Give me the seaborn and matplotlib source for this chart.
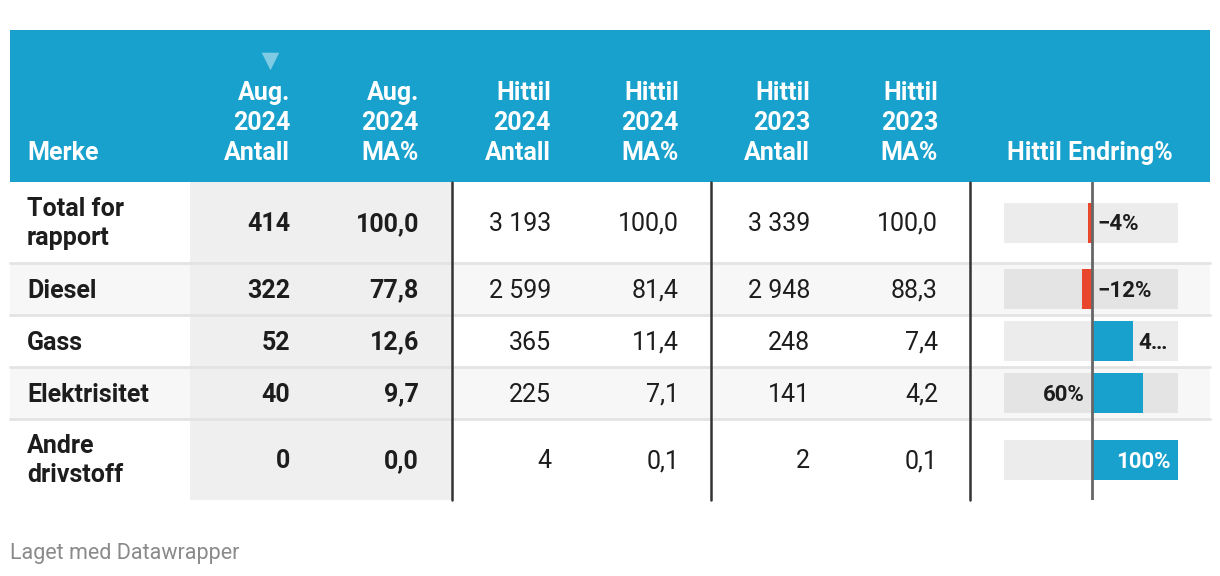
import matplotlib
matplotlib.use('Agg')
import matplotlib.pyplot as plt
import seaborn as sns
import numpy as np
import pandas as pd

# table data
merke = ['Total for\nrapport', 'Diesel', 'Gass', 'Elektrisitet', 'Andre\ndrivstoff']
aug_antall = [414, 322, 52, 40, 0]
aug_ma = [100.0, 77.8, 12.6, 9.7, 0.0]
hittil24_antall = [3193, 2599, 365, 225, 4]
hittil24_ma = [100.0, 81.4, 11.4, 7.1, 0.1]
hittil23_antall = [3339, 2948, 248, 141, 2]
hittil23_ma = [100.0, 88.3, 7.4, 4.2, 0.1]
headers = ['Aug.\n2024\nAntall', 'Aug.\n2024\nMA%', 'Hittil\n2024\nAntall',
           'Hittil\n2024\nMA%', 'Hittil\n2023\nAntall', 'Hittil\n2023\nMA%']

# endring in percent (hittil 2024 vs hittil 2023)
endring = [(a / b - 1) * 100 for a, b in zip(hittil24_antall, hittil23_antall)]

BLUE = '#18a1cd'
RED = '#e8472d'
TXT = '#1d1d1d'

sns.set_theme(style='white')
plt.rcParams['font.family'] = ['Roboto', 'DejaVu Sans']

fig = plt.figure(figsize=(12.2, 5.76), dpi=100)
ax = fig.add_axes([0, 0, 1, 1])
ax.set_xlim(0, 1220)
ax.set_ylim(576, 0)
ax.axis('off')

# layout (pixels)
row_top = [182, 263, 315, 367, 419]
row_bot = [263, 315, 367, 419, 500]
row_mid = [(a + b) / 2 for a, b in zip(row_top, row_bot)]
col_right = [290, 419, 551, 679, 810, 938]
fs = 18

# header band
ax.add_patch(plt.Rectangle((10, 30), 1200, 152, color=BLUE, lw=0))
ax.scatter([270], [61], marker='v', s=160, color='white', alpha=0.45, lw=0)
ax.text(27, 160, 'Merke', color='white', fontsize=fs, fontweight='bold', va='baseline')
for h, xr in zip(headers, col_right):
    lines = h.split('\n')
    for k, line in enumerate(lines):
        ax.text(xr, 160 - 30 * (len(lines) - 1 - k), line, color='white', fontsize=fs,
                fontweight='bold', ha='right', va='baseline')
ax.text(1090, 160, 'Hittil Endring%', color='white', fontsize=fs, fontweight='bold',
        ha='center', va='baseline')

# zebra rows + separators
for i in range(len(merke)):
    if i % 2 == 1:
        ax.add_patch(plt.Rectangle((10, row_top[i]), 1200, row_bot[i] - row_top[i],
                                   color='#f7f7f7', lw=0, zorder=0))
for y in row_bot[:-1]:
    ax.plot([10, 1210], [y, y], color='#e3e3e3', lw=2, zorder=1)

# shaded sorted column
ax.add_patch(plt.Rectangle((190, 182), 262, 318, color='#efefef', lw=0, zorder=0.5))
for x in [452, 711, 970]:
    ax.plot([x, x], [182, 500], color='#333333', lw=1.8, zorder=2)

def fmt_int(n):
    return f'{n:,}'.replace(',', ' ')

def fmt_dec(v):
    return f'{v:.1f}'.replace('.', ',')

for i in range(len(merke)):
    lines = merke[i].split('\n')
    base = row_mid[i] + 8.5 - 15 * (len(lines) - 1)
    for k, line in enumerate(lines):
        ax.text(27, base + 29.5 * k, line, color=TXT, fontsize=fs, fontweight='bold', va='baseline', zorder=3)
    cells = [fmt_int(aug_antall[i]), fmt_dec(aug_ma[i]), fmt_int(hittil24_antall[i]),
             fmt_dec(hittil24_ma[i]), fmt_int(hittil23_antall[i]), fmt_dec(hittil23_ma[i])]
    for j, (c, xr) in enumerate(zip(cells, col_right)):
        ax.text(xr, row_mid[i] + 8.5, c, color=TXT, fontsize=fs, ha='right', va='baseline',
                fontweight='bold' if j < 2 else 'normal', zorder=3)

# bar column
bx = fig.add_axes([1004 / 1220, 76 / 576, 174 / 1220, 318 / 576])
bx.patch.set_alpha(0)
bx.barh(row_mid, 202.3, left=-102.3, height=40, color='black', alpha=0.075, lw=0)
df = pd.DataFrame({'endring': endring, 'y': row_mid,
                   'sign': ['neg' if v < 0 else 'pos' for v in endring]})
sns.barplot(data=df, x='endring', y='y', hue='sign', orient='y', native_scale=True,
            palette={'neg': RED, 'pos': BLUE}, saturation=1, dodge=False, legend=False,
            width=40 / 52, linewidth=0, ax=bx)
bx.axvline(0, color='#666666', lw=2)
bx.set_xlim(-102.3, 100)
bx.set_ylim(500, 182)
bx.axis('off')

label_side = ['zero_right', 'zero_right', 'outside', 'zero_left', 'inside']
bfs = 16
for v, y, side in zip(endring, row_mid, label_side):
    lab = f'{v:.0f}%'.replace('-', '\u2212')
    if side == 'zero_right':
        bx.annotate(lab, (0, y + 8), xytext=(4, 0), textcoords='offset points',
                    ha='left', va='baseline', fontsize=bfs, fontweight='bold', color=TXT)
    elif side == 'zero_left':
        bx.annotate(lab, (0, y + 8), xytext=(-5.5, 0), textcoords='offset points',
                    ha='right', va='baseline', fontsize=bfs, fontweight='bold', color=TXT)
    elif side == 'outside':
        bx.annotate(lab[0] + '\u2026', (v, y + 8), xytext=(4, 0), textcoords='offset points',
                    ha='left', va='baseline', fontsize=bfs, fontweight='bold', color=TXT)
    else:
        bx.annotate(lab, (v, y + 8), xytext=(-5, 0), textcoords='offset points',
                    ha='right', va='baseline', fontsize=bfs, fontweight='bold', color='white')

# footer
ax.text(10, 559, 'Laget med Datawrapper', color='#8a8a8a', fontsize=15.5, va='baseline')

fig.savefig('out.png', dpi=100)
